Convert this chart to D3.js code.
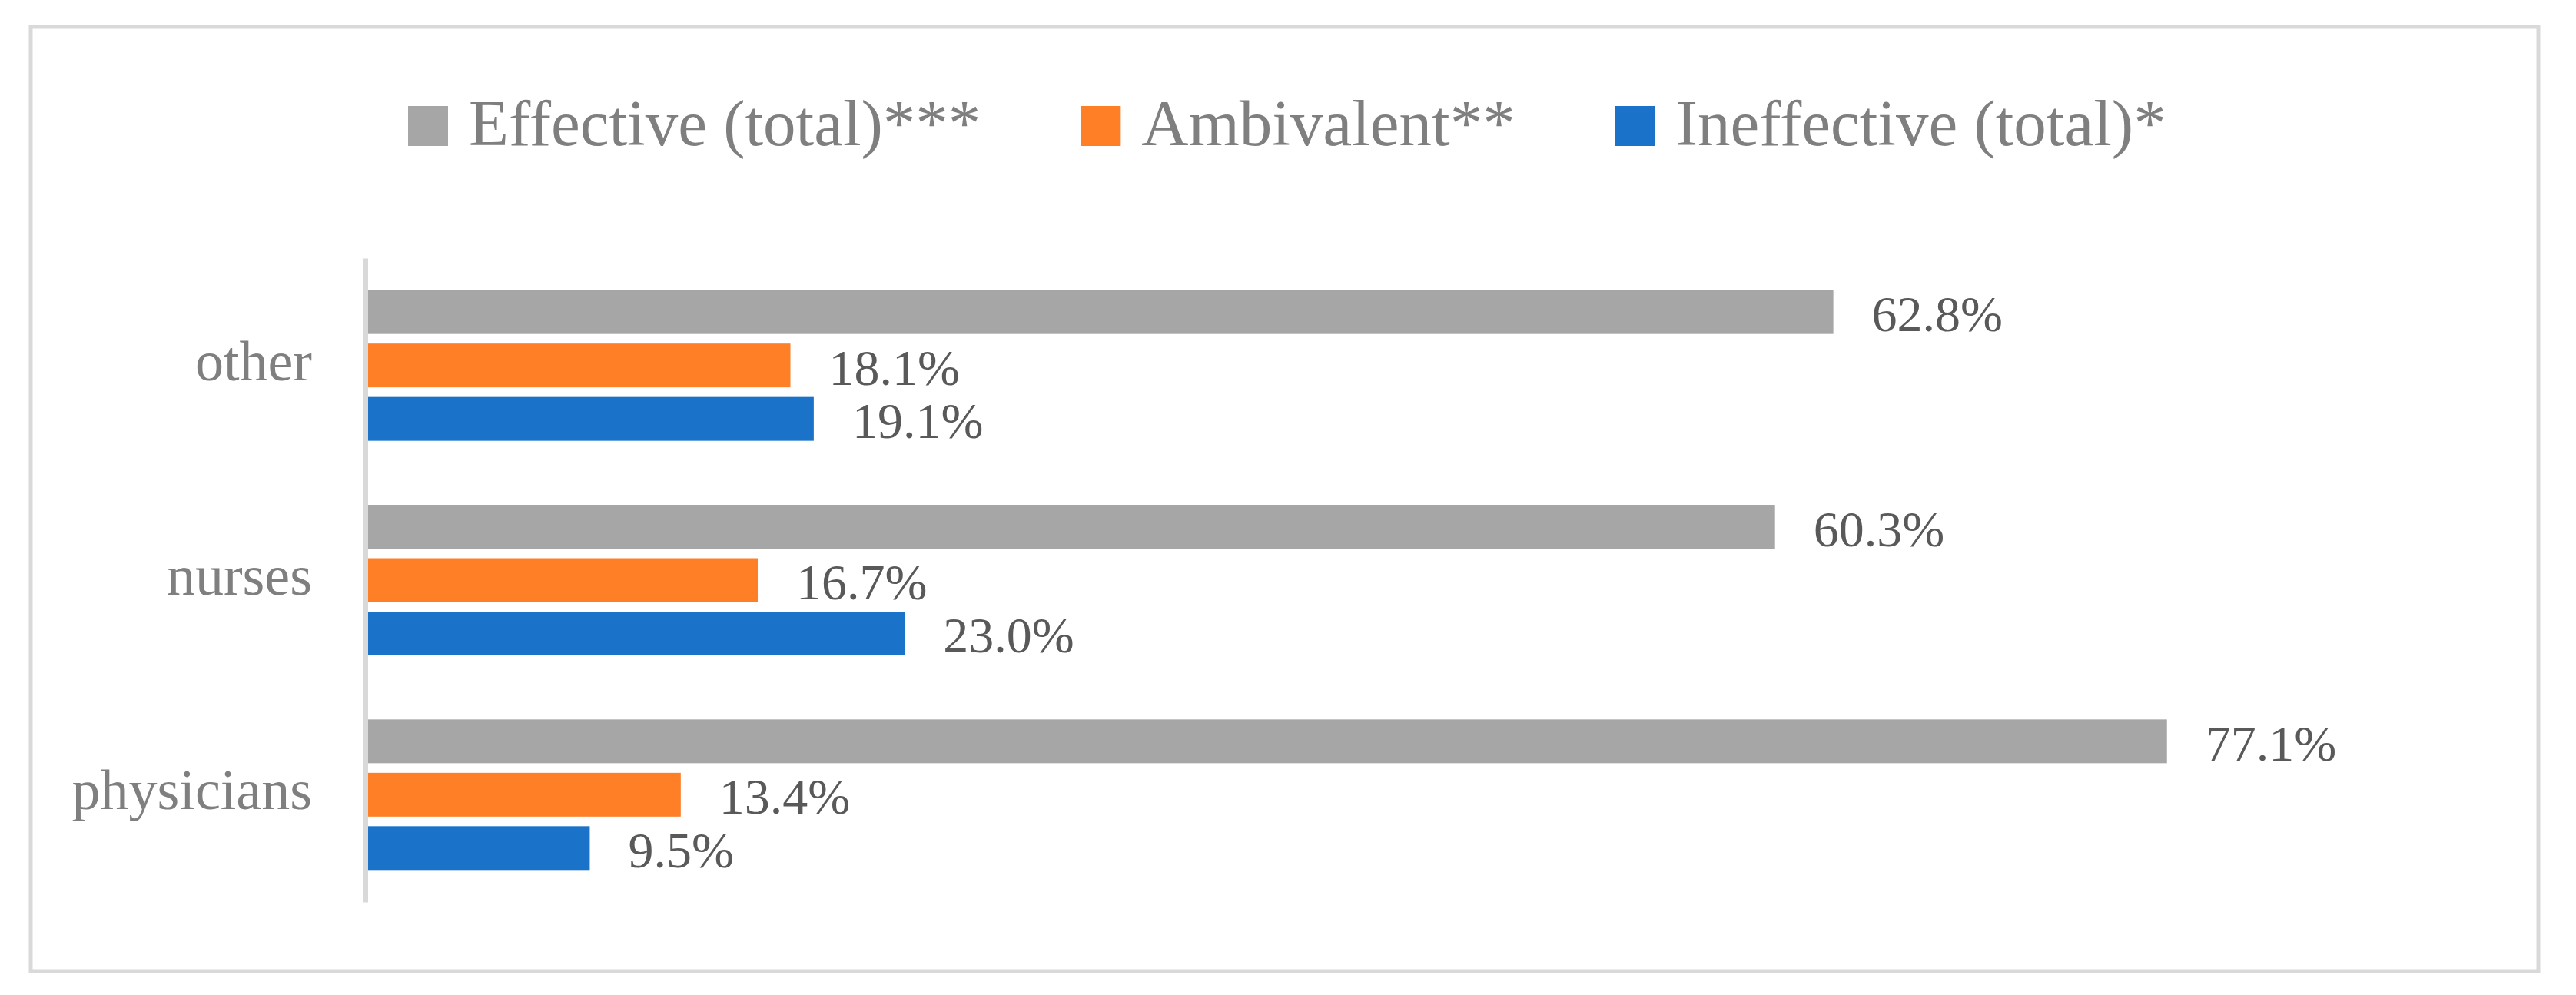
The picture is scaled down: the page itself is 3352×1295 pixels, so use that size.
<!DOCTYPE html>
<html>
<head>
<meta charset="utf-8">
<script src="https://cdn.jsdelivr.net/npm/d3@7"></script>
<style>
  html, body { margin: 0; padding: 0; background: #ffffff; }
  svg { display: block; }
  text { font-family: "Liberation Serif", "Times New Roman", serif; }
</style>
</head>
<body>
<svg id="chart" width="3352" height="1295"></svg>
<script>
// ---- data ----
const categories = ["other", "nurses", "physicians"];
const seriesNames = ["Effective (total)***", "Ambivalent**", "Ineffective (total)*"];
const effective = [62.8, 60.3, 77.1];
const ambivalent = [18.1, 16.7, 13.4];
const ineffective = [19.1, 23.0, 9.5];
const seriesColors = ["#A6A6A6", "#FF7F27", "#1A73C8"];

const seriesValues = [effective, ambivalent, ineffective];

const svg = d3.select("#chart");

// outer frame
svg.append("rect")
  .attr("x", 40).attr("y", 35)
  .attr("width", 3263).attr("height", 1229)
  .attr("fill", "#ffffff")
  .attr("stroke", "#D9D9D9")
  .attr("stroke-width", 5);

// scales
const x = d3.scaleLinear().domain([0, 90]).range([479, 479 + 90 * 30.36]);
const y = d3.scaleBand().domain(categories).range([336, 1174]).paddingInner(0).paddingOuter(0);
const yInner = d3.scaleBand().domain(seriesNames).range([0, y.bandwidth()])
  .paddingInner(0.18).paddingOuter(0.6);

// bars
const groups = svg.append("g").selectAll("g")
  .data(categories)
  .join("g")
  .attr("transform", d => `translate(0,${y(d)})`);

groups.each(function(cat, ci) {
  const g = d3.select(this);
  const rows = seriesNames.map((s, si) => ({ s, si, v: seriesValues[si][ci] }));
  g.selectAll("rect")
    .data(rows)
    .join("rect")
    .attr("x", x(0))
    .attr("y", d => yInner(d.s))
    .attr("width", d => x(d.v) - x(0))
    .attr("height", yInner.bandwidth())
    .attr("fill", d => seriesColors[d.si]);
  g.selectAll("text.val")
    .data(rows)
    .join("text")
    .attr("class", "val")
    .attr("x", d => x(d.v) + 50)
    .attr("y", d => yInner(d.s) + yInner.bandwidth() / 2 + 25)
    .attr("font-size", 66)
    .attr("fill", "#595959")
    .text(d => d.v.toFixed(1) + "%");
});

// axis (category axis on the left, line only)
const yAxis = d3.axisLeft(y).tickSize(0).tickPadding(0);
const axisG = svg.append("g")
  .attr("transform", `translate(475.5,0)`)
  .call(yAxis);
axisG.select(".domain").attr("stroke", "#D9D9D9").attr("stroke-width", 6);
axisG.selectAll(".tick text")
  .attr("x", -69.5)
  .attr("dy", null)
  .attr("y", 19)
  .attr("font-family", "Liberation Serif, serif")
  .attr("font-size", 74)
  .attr("fill", "#7F7F7F")
  .attr("text-anchor", "end");

// legend
const legend = svg.append("g");
let lx = 531;
seriesNames.forEach((name, i) => {
  legend.append("rect")
    .attr("x", lx).attr("y", 138)
    .attr("width", 52).attr("height", 52)
    .attr("fill", seriesColors[i]);
  const t = legend.append("text")
    .attr("x", lx + 79).attr("y", 189)
    .attr("font-size", 85)
    .attr("fill", "#7F7F7F")
    .text(name);
  const tw = t.node().getComputedTextLength();
  lx = lx + 79 + tw + 130;
});
</script>
</body>
</html>
